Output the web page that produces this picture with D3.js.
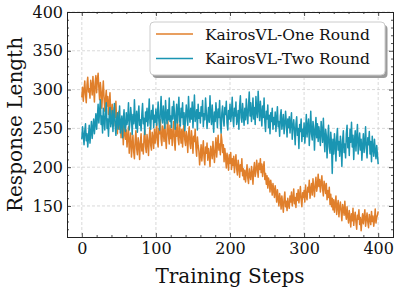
<!DOCTYPE html>
<meta charset="utf-8">
<style>
body { margin: 0; background: #fff; }
.grid line { stroke: #cfcfcf; stroke-width: 0.8; stroke-dasharray: 3,2; }
</style>
<svg width="399" height="293"></svg>
<script src="https://d3js.org/d3.v7.min.js"></script>
<script>

// response length per training step (0..400)
var oneRound = [
  290,303,285,299,311,294,283,306,316,297,301,289,312,305,293,317,300,284,309,318,
  296,313,321,302,287,309,298,276,295,311,290,272,288,299,279,291,268,284,296,271,
  262,281,270,253,277,264,285,258,243,266,272,249,259,238,262,251,229,255,244,236,
  248,226,239,252,218,233,244,213,229,241,220,211,235,247,224,216,238,229,210,232,
  243,221,230,217,239,248,226,219,242,233,215,237,251,228,222,245,238,224,249,231,
  240,257,234,226,250,243,261,236,228,253,246,233,258,239,224,247,262,241,230,254,
  237,249,228,244,259,233,222,251,240,264,236,229,255,243,231,249,226,244,257,235,
  228,246,238,219,243,252,230,224,247,236,218,240,233,249,225,214,239,228,221,203,
  215,229,208,221,234,212,203,226,218,231,209,224,216,201,227,220,211,233,219,206,
  224,238,213,228,241,222,230,216,243,235,219,229,207,224,214,199,218,209,196,216,
  205,219,197,211,202,214,193,206,216,198,190,209,201,187,203,195,211,189,198,184,
  196,181,192,203,186,179,198,189,184,201,193,178,197,206,188,194,209,199,187,205,
  197,211,193,204,188,199,207,184,192,178,189,173,186,181,168,183,175,164,179,170,
  161,176,167,155,171,160,150,166,158,146,163,153,142,159,168,149,156,144,160,151,
  147,163,155,168,150,159,172,153,161,148,166,157,171,154,163,175,158,149,167,161,
  170,155,177,163,158,174,168,183,160,171,179,164,185,173,162,178,187,169,176,191,
  175,184,168,180,189,172,163,182,176,166,179,158,170,161,174,152,165,149,160,145,
  158,142,153,163,139,150,157,136,148,155,143,131,152,146,138,156,141,133,149,137,
  128,144,135,123,140,131,147,125,136,142,129,120,138,133,145,126,135,118,131,140,
  127,136,145,124,133,141,129,122,139,134,126,143,130,137,124,132,146,128,135,138,
  143
];

var twoRound = [
  236,252,241,229,247,256,234,243,226,239,254,231,245,259,237,250,262,243,256,269,
  249,264,281,257,272,287,255,266,244,276,261,248,271,283,250,262,240,268,277,252,
  259,273,246,265,282,254,241,262,270,249,258,279,244,257,266,238,261,274,251,246,
  270,255,263,283,248,259,277,264,242,268,256,287,261,250,272,245,266,279,254,261,
  247,268,282,256,263,242,271,259,276,253,266,288,257,249,273,262,280,251,267,258,
  275,254,266,284,260,248,272,291,263,257,279,265,250,286,268,256,274,261,289,259,
  266,251,278,262,285,270,249,264,281,257,272,290,260,253,276,264,283,255,270,247,
  262,280,267,254,291,268,258,276,262,284,251,270,293,259,266,274,248,281,263,270,
  257,278,266,286,252,269,261,289,272,250,263,277,258,292,267,255,280,262,245,271,
  259,283,268,251,275,264,286,256,244,270,279,262,253,277,268,285,257,248,273,262,
  281,259,268,290,263,252,276,266,284,255,261,273,249,279,292,264,258,282,267,254,
  276,261,288,270,256,279,297,266,283,259,271,289,262,277,255,291,272,264,298,276,
  260,285,270,253,279,264,289,258,246,272,262,280,251,267,243,270,259,276,249,264,
  255,271,246,263,278,252,259,240,266,274,249,257,268,243,254,272,258,239,262,251,
  265,244,258,270,236,252,261,247,229,256,265,241,250,224,255,246,262,233,249,240,
  257,231,246,268,239,253,262,228,248,272,243,235,259,250,222,247,264,238,256,233,
  252,241,228,259,246,232,263,238,220,249,241,212,237,254,226,218,245,231,192,236,
  217,243,229,208,238,250,222,233,214,240,227,201,235,247,219,230,212,243,254,225,
  238,215,249,232,258,226,241,210,234,247,221,239,255,217,232,244,222,236,209,228,
  243,219,231,252,224,212,238,229,246,217,233,207,240,225,214,236,221,211,228,216,
  204
];

var seriesNames = ["KairosVL-One Round", "KairosVL-Two Round"];
var seriesColors = ["#e07f2b", "#1a95b2"];
var xTicks = [0, 100, 200, 300, 400];
var yTicks = [150, 200, 250, 300, 350, 400];
var serif = "'DejaVu Serif', serif";

var svg = d3.select("svg"),
    margin = {top: 12, right: 6, bottom: 56, left: 67},
    width = 399 - margin.left - margin.right,
    height = 293 - margin.top - margin.bottom;

var x = d3.scaleLinear().domain([-20, 420]).range([0, width]);
var y = d3.scaleLinear().domain([110, 400]).range([height, 0]);

var g = svg.append("g")
    .attr("transform", "translate(" + margin.left + "," + margin.top + ")");

// dashed grid
var grid = g.append("g").attr("class", "grid");
grid.selectAll(".gx").data(xTicks).enter().append("line")
    .attr("x1", x).attr("x2", x).attr("y1", 0).attr("y2", height);
grid.selectAll(".gy").data(yTicks).enter().append("line")
    .attr("y1", y).attr("y2", y).attr("x1", 0).attr("x2", width);

// lines
var line = d3.line()
    .x(function(d, i) { return x(i); })
    .y(function(d) { return y(d); });

[oneRound, twoRound].forEach(function(data, k) {
  g.append("path")
      .datum(data)
      .attr("fill", "none")
      .attr("stroke", seriesColors[k])
      .attr("stroke-width", 1.5)
      .attr("stroke-linejoin", "round")
      .attr("d", line);
});

// axes with inward ticks on all four sides
var xMinor = d3.range(-20, 421, 20).filter(function(v) { return v % 100 != 0; });
var yMinor = d3.range(110, 401, 10).filter(function(v) { return v % 50 != 0; });

function styleAxis(sel) {
  sel.attr("font-family", null);
  sel.select(".domain").attr("stroke", "#222").attr("stroke-width", 1);
  sel.selectAll(".tick line").attr("stroke", "#222").attr("stroke-width", 0.8);
  sel.selectAll("text").style("font-size", "16px").style("fill", "#111")
    .style("font-family", serif);
}

g.append("g").attr("transform", "translate(0," + height + ")")
    .call(d3.axisBottom(x).tickValues(xTicks).tickSizeInner(-4).tickSizeOuter(0).tickPadding(6))
    .call(styleAxis);
g.append("g").attr("transform", "translate(0," + height + ")")
    .call(d3.axisBottom(x).tickValues(xMinor).tickSize(-2).tickFormat(""))
    .call(styleAxis);
g.append("g")
    .call(d3.axisTop(x).tickValues(xTicks).tickSize(-4).tickFormat(""))
    .call(styleAxis);
g.append("g")
    .call(d3.axisTop(x).tickValues(xMinor).tickSize(-2).tickFormat(""))
    .call(styleAxis);

g.append("g")
    .call(d3.axisLeft(y).tickValues(yTicks).tickSizeInner(-4).tickSizeOuter(0).tickPadding(4))
    .call(styleAxis);
g.append("g")
    .call(d3.axisLeft(y).tickValues(yMinor).tickSize(-2).tickFormat(""))
    .call(styleAxis);
g.append("g").attr("transform", "translate(" + width + ",0)")
    .call(d3.axisRight(y).tickValues(yTicks).tickSize(-4).tickFormat(""))
    .call(styleAxis);
g.append("g").attr("transform", "translate(" + width + ",0)")
    .call(d3.axisRight(y).tickValues(yMinor).tickSize(-2).tickFormat(""))
    .call(styleAxis);

// axis titles
svg.append("text")
    .attr("x", margin.left + x(200))
    .attr("y", 283)
    .attr("text-anchor", "middle")
    .style("font-family", serif)
    .style("font-size", "20px")
    .style("fill", "#111")
    .text("Training Steps");

svg.append("text")
    .attr("transform", "translate(22," + (margin.top + height / 2) + ") rotate(-90)")
    .attr("text-anchor", "middle")
    .style("font-family", serif)
    .style("font-size", "20px")
    .style("fill", "#111")
    .text("Response Length");

// legend with shadow
var lg = svg.append("g").attr("transform", "translate(150,22)");
lg.append("rect")
    .attr("x", 2.5).attr("y", 3).attr("width", 235).attr("height", 53).attr("rx", 4)
    .attr("fill", "#9a9a9a");
lg.append("rect")
    .attr("x", 0).attr("y", 0).attr("width", 235).attr("height", 53).attr("rx", 4)
    .attr("fill", "#fff").attr("stroke", "#cccccc").attr("stroke-width", 1);

seriesNames.forEach(function(name, k) {
  var yy = 12 + k * 24.5;
  lg.append("line")
      .attr("x1", 6).attr("x2", 43).attr("y1", yy).attr("y2", yy)
      .attr("stroke", seriesColors[k]).attr("stroke-width", 1.5);
  lg.append("text")
      .attr("x", 55).attr("y", yy + 5.5)
      .style("font-family", serif)
      .style("font-size", "15.5px")
      .style("fill", "#111")
      .text(name);
});

</script>
